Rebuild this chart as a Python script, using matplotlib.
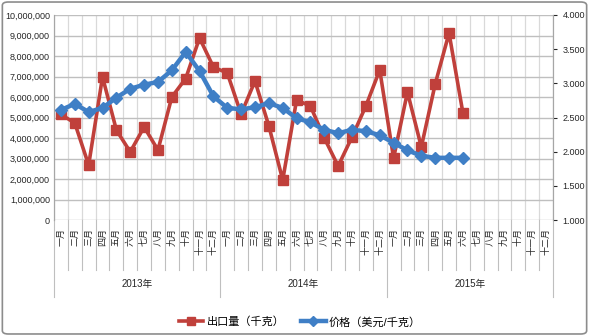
import numpy as np
import matplotlib.pyplot as plt
import matplotlib.transforms as mtransforms
from matplotlib.patches import FancyBboxPatch
from matplotlib.ticker import FuncFormatter, MultipleLocator

plt.rcParams['font.family'] = ['Liberation Sans', 'Noto Sans CJK SC', 'DejaVu Sans']

# Data
years = ['2013年', '2014年', '2015年']
months = ['一月', '二月', '三月', '四月', '五月', '六月', '七月', '八月', '九月', '十月', '十一月', '十二月']
export_qty = [5150000, 4730000, 2680000, 6980000, 4390000, 3320000, 4540000, 3410000, 6000000, 6900000,
              8880000, 7460000, 7170000, 5170000, 6780000, 4590000, 1950000, 5850000, 5560000, 4000000,
              2630000, 4050000, 5560000, 7320000, 3020000, 6240000, 3560000, 6630000, 9120000, 5220000]
price = [2.61, 2.70, 2.58, 2.64, 2.79, 2.92, 2.98, 3.02, 3.19, 3.46,
         3.18, 2.81, 2.64, 2.62, 2.65, 2.71, 2.64, 2.49, 2.43, 2.32,
         2.27, 2.32, 2.30, 2.24, 2.13, 2.02, 1.94, 1.91, 1.91, 1.91]

red = '#C0403B'
blue = '#3F7FC6'
n_cat = len(months) * len(years)

fig = plt.figure(figsize=(5.89, 3.36), dpi=100)
ax = fig.add_axes([54 / 589, 1 - 220 / 336, 499 / 589, 205 / 336])
ax2 = ax.twinx()

# outer border
fig.patches.append(FancyBboxPatch((0.004, 0.006), 0.992, 0.988, boxstyle='round,pad=0,rounding_size=0.01',
                                  transform=fig.transFigure, fill=False, edgecolor='#8C8C8C', linewidth=1.2))

x = np.arange(len(export_qty))
ax.plot(x, export_qty, color=red, linewidth=2.6, marker='s', markersize=6.5, zorder=3)
ax2.plot(np.arange(len(price)), price, color=blue, linewidth=3.2, marker='D', markersize=6.5, zorder=3)

ax.set_xlim(-0.5, n_cat - 0.5)
ax.set_ylim(0, 10000000)
ax2.set_ylim(1.0, 4.0)
ax.yaxis.set_major_locator(MultipleLocator(1000000))
ax2.yaxis.set_major_locator(MultipleLocator(0.5))
ax.yaxis.set_major_formatter(FuncFormatter(lambda v, p: f'{int(v):,}'))
ax2.yaxis.set_major_formatter(FuncFormatter(lambda v, p: f'{v:.3f}'))
ax.tick_params(axis='y', labelsize=6.5, length=0, pad=3, colors='#262626')
ax2.tick_params(axis='y', labelsize=6.5, length=3, pad=4, colors='#262626')
ax.set_xticks([])

# gridlines
for b in np.arange(-0.5, n_cat, 1.0):
    ax.axvline(b, color='#D9D9D9', linewidth=0.9, zorder=0)
for v in range(1000000, 10000001, 1000000):
    ax.axhline(v, color='#BFBFBF', linewidth=1.0, zorder=0)

for a in (ax, ax2):
    for s in ('top', 'bottom'):
        a.spines[s].set_visible(False)
    a.spines['left'].set_color('#A6A6A6')
    a.spines['right'].set_color('#A6A6A6')
ax.axhline(0, color='#BFBFBF', linewidth=1.0, zorder=1)

# category axis with two levels
trans = mtransforms.blended_transform_factory(ax.transData, ax.transAxes)
for b in np.arange(-0.5, n_cat, 1.0):
    is_year = abs((b + 0.5) % 12) < 1e-9
    y_end = -0.375 if is_year else -0.245
    ax.plot([b, b], [0, y_end], transform=trans, color='#BFBFBF', linewidth=0.8, clip_on=False)
for i in range(n_cat):
    ax.text(i, -0.04, months[i % 12], transform=trans, rotation=90, ha='center', va='top',
            fontsize=6.5, color='#262626')
for k, yr in enumerate(years):
    ax.text(k * 12 + 5.5, -0.31, yr, transform=trans, ha='center', va='center', fontsize=7,
            color='#262626')

# legend
h1, = ax.plot([], [], color=red, linewidth=2.6, marker='s', markersize=6)
h2, = ax.plot([], [], color=blue, linewidth=3.2, marker='D', markersize=5)
fig.legend([h1, h2], ['出口量（千克）', '价格（美元/千克）'], loc='center', bbox_to_anchor=(300 / 589, 1 - 322 / 336),
           ncol=2, frameon=False, fontsize=8, handlelength=2.2, columnspacing=1.5, handletextpad=0.3)

fig.savefig('out.png', dpi=100)
